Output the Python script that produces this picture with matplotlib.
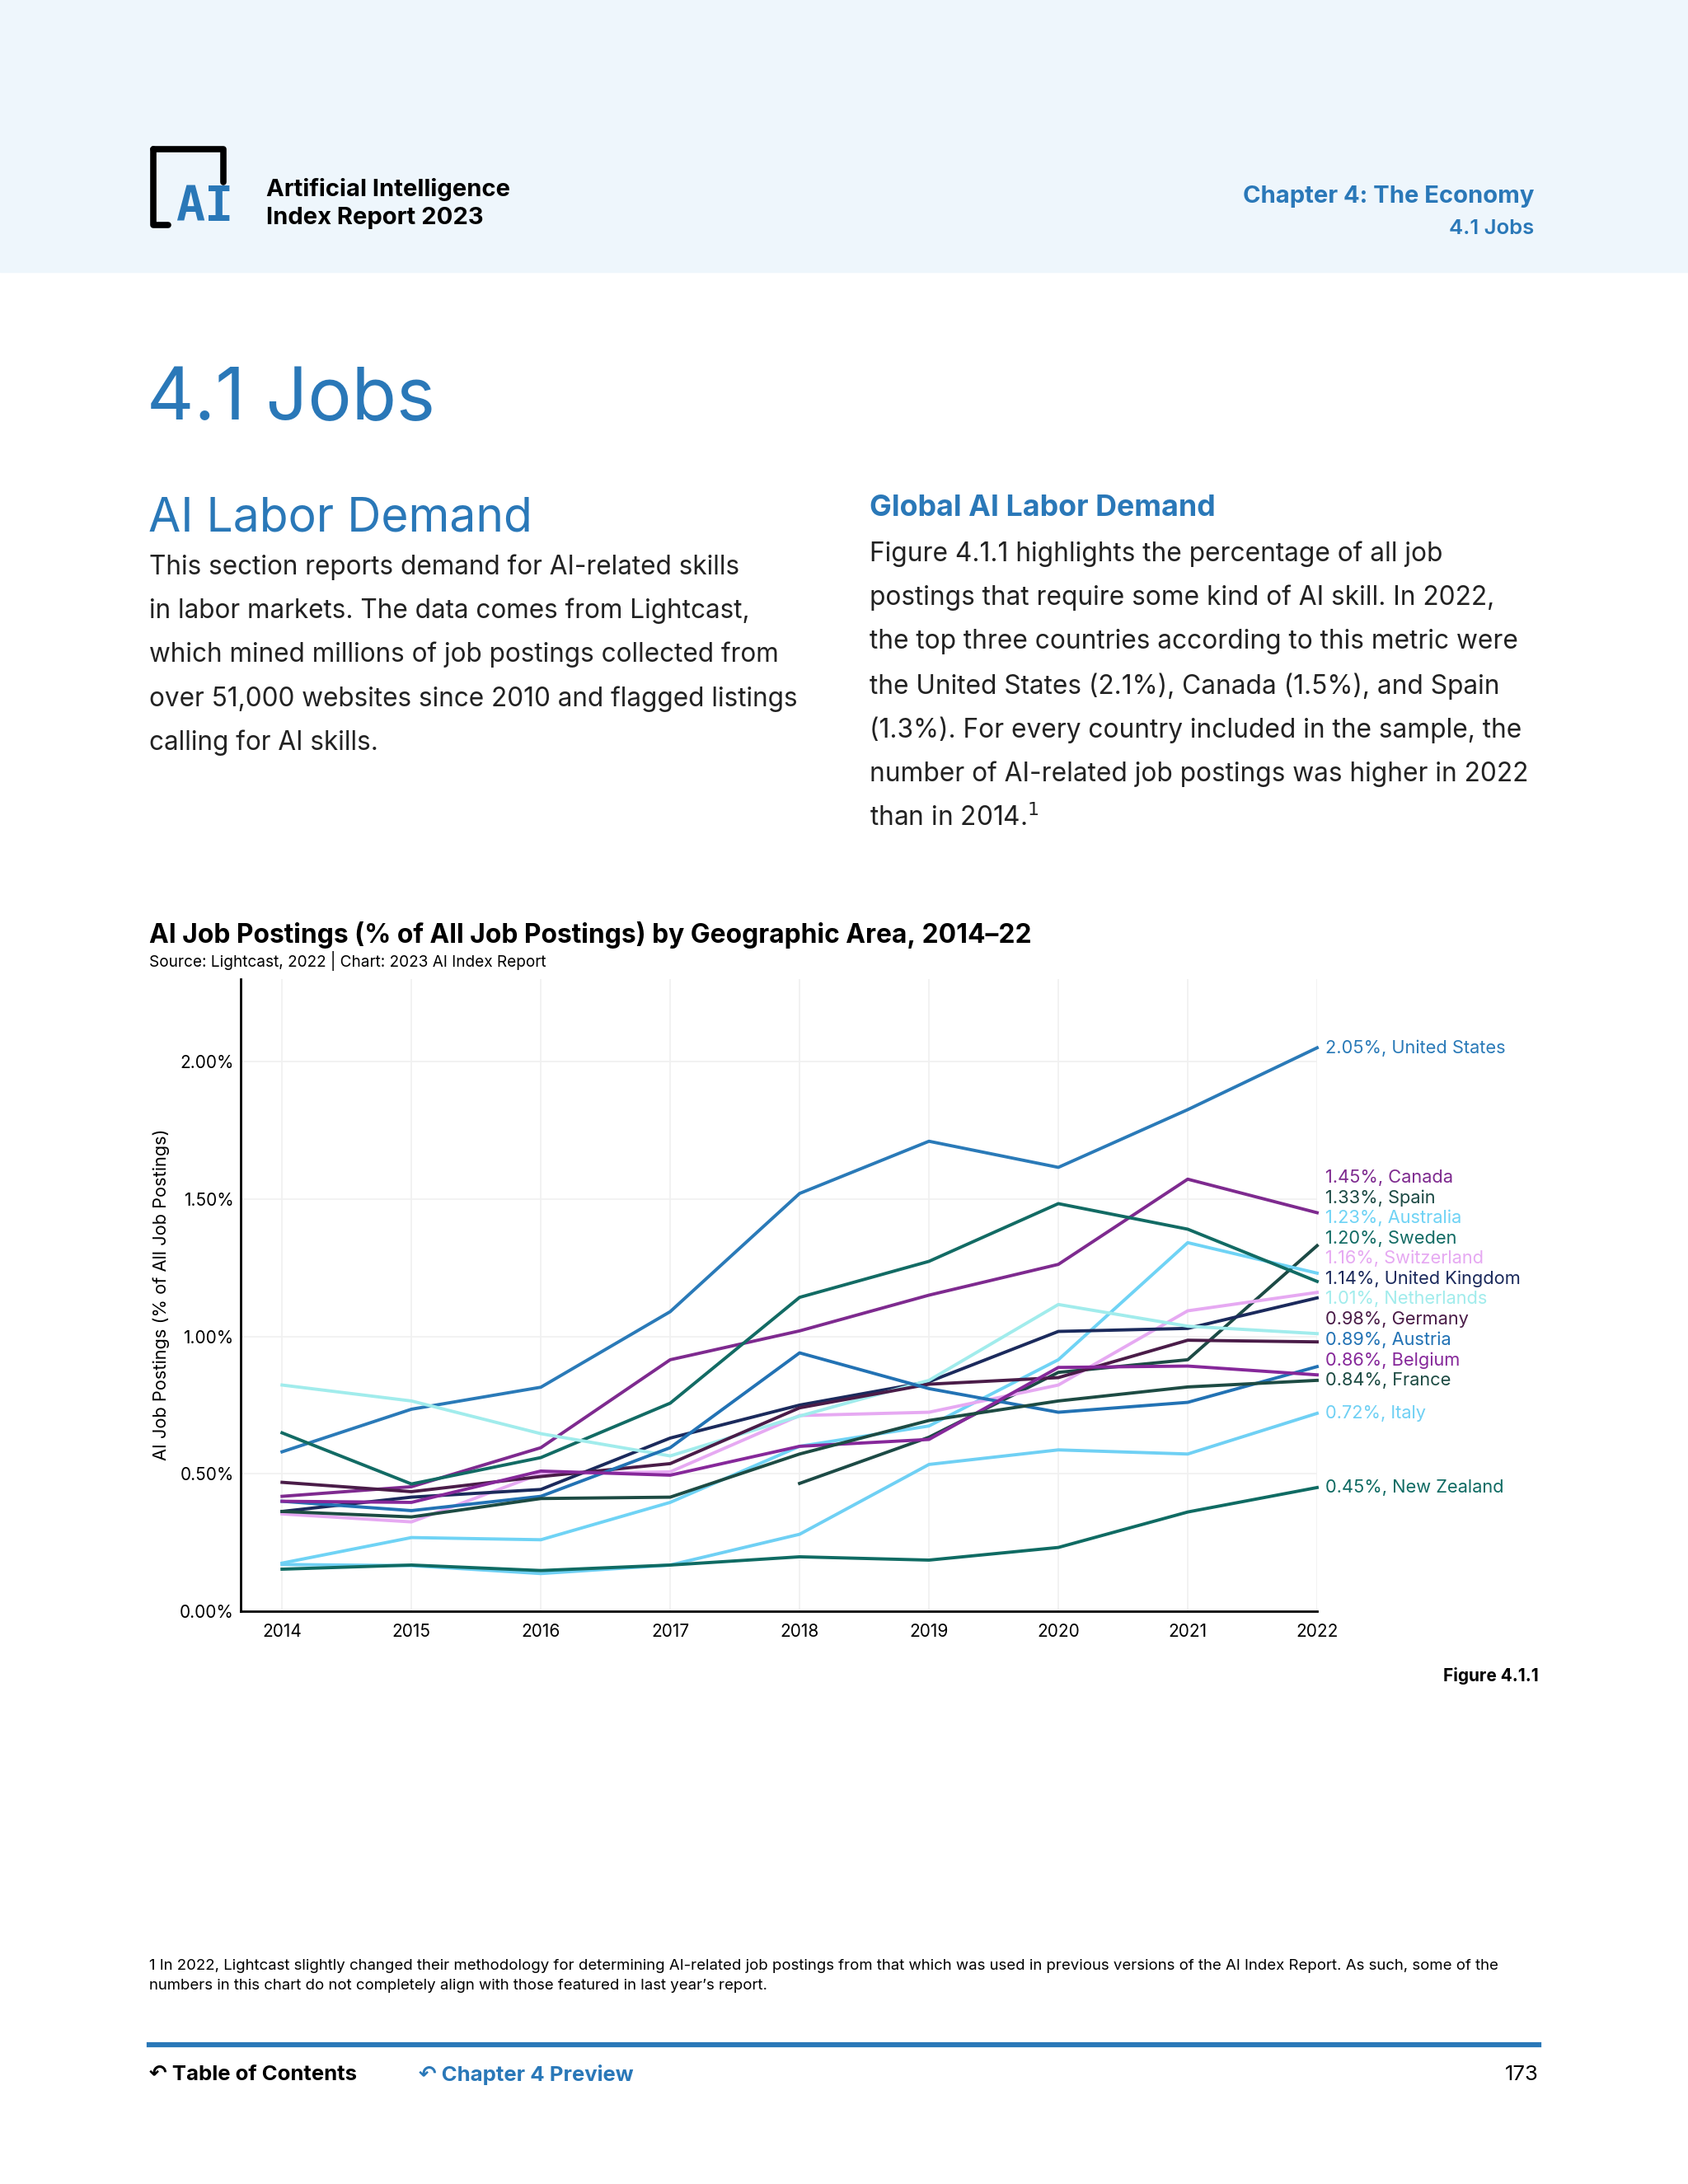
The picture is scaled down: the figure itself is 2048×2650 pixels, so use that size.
import numpy as np
import matplotlib
matplotlib.use("Agg")
import matplotlib.pyplot as plt
from matplotlib.lines import Line2D
from matplotlib.patches import Rectangle

plt.rcParams['font.family'] = ['Inter', 'DejaVu Sans']

# dati (% di tutti gli annunci)
anni = [2014, 2015, 2016, 2017, 2018, 2019, 2020, 2021, 2022]
paesi = ["United States", "Canada", "Spain", "Australia", "Sweden", "Switzerland",
         "United Kingdom", "Netherlands", "Germany", "Austria", "Belgium", "France",
         "Italy", "New Zealand"]
nan = np.nan
united_states = [0.58, 0.735, 0.815, 1.09, 1.52, 1.71, 1.615, 1.825, 2.05]
canada = [0.418, 0.453, 0.595, 0.915, 1.02, 1.15, 1.262, 1.572, 1.45]
spain = [nan, nan, nan, nan, 0.465, 0.633, 0.869, 0.915, 1.33]
australia = [0.175, 0.268, 0.26, 0.396, 0.60, 0.674, 0.915, 1.341, 1.23]
sweden = [0.649, 0.463, 0.559, 0.757, 1.142, 1.273, 1.483, 1.39, 1.20]
switzerland = [0.354, 0.325, 0.50, 0.507, 0.712, 0.724, 0.823, 1.093, 1.16]
united_kingdom = [0.363, 0.415, 0.443, 0.63, 0.75, 0.835, 1.018, 1.029, 1.14]
netherlands = [0.823, 0.765, 0.646, 0.565, 0.71, 0.84, 1.116, 1.037, 1.01]
germany = [0.469, 0.435, 0.49, 0.537, 0.74, 0.826, 0.85, 0.986, 0.98]
austria = [0.40, 0.366, 0.418, 0.595, 0.94, 0.81, 0.724, 0.76, 0.89]
belgium = [0.40, 0.396, 0.51, 0.495, 0.60, 0.625, 0.887, 0.892, 0.86]
france = [0.363, 0.343, 0.41, 0.415, 0.572, 0.694, 0.765, 0.816, 0.84]
italy = [0.17, 0.166, 0.137, 0.168, 0.28, 0.534, 0.587, 0.572, 0.72]
new_zealand = [0.153, 0.168, 0.148, 0.168, 0.198, 0.186, 0.232, 0.361, 0.45]
serie = [united_states, canada, spain, australia, sweden, switzerland, united_kingdom,
         netherlands, germany, austria, belgium, france, italy, new_zealand]
colori = ["#2a7ab8", "#7e2a8f", "#1c4a45", "#6fd3f5", "#126b64", "#e6a9f2", "#1b2a5c",
          "#a1ecec", "#4a1c48", "#2272b4", "#86289a", "#1d4b43", "#6fd0f4", "#0f6b63"]

W, H = 2048, 2650
fig = plt.figure(figsize=(W / 100, H / 100), dpi=100)
blu = "#2a78b8"


def fx(x):
    return x / W


def fy(y):
    return 1 - y / H


# fascia in alto
fig.patches.append(Rectangle((0, fy(330)), 1, 330 / H, transform=fig.transFigure,
                             color="#eef6fc", zorder=0))
# logo
lw_logo = 5.5
for xs, ys in [([186, 186, 204], [181, 273, 273]), ([186, 271, 271], [181, 181, 221])]:
    fig.add_artist(Line2D([fx(v) for v in xs], [fy(v) for v in ys], color="black",
                          lw=lw_logo, solid_capstyle="round", solid_joinstyle="round"))
fig.text(fx(248), fy(252), "AI", color=blu, fontsize=42, fontweight="bold",
         family="DejaVu Sans Mono", ha="center", va="center")
fig.text(fx(323), fy(230), "Artificial Intelligence", fontsize=21, fontweight="bold",
         va="center")
fig.text(fx(323), fy(265), "Index Report 2023", fontsize=21, fontweight="bold",
         va="center")
fig.text(fx(1861), fy(238), "Chapter 4: The Economy", fontsize=21, fontweight="bold",
         color=blu, ha="right", va="center")
fig.text(fx(1861), fy(277), "4.1 Jobs", fontsize=18.5, fontweight="semibold",
         color=blu, ha="right", va="center")

# titoli e testo
fig.text(fx(178), fy(486), "4.1 Jobs", fontsize=64, color=blu, va="center")
fig.text(fx(180), fy(630), "AI Labor Demand", fontsize=41, color=blu, va="center")
sinistra = ["This section reports demand for AI-related skills",
            "in labor markets. The data comes from Lightcast,",
            "which mined millions of job postings collected from",
            "over 51,000 websites since 2010 and flagged listings",
            "calling for AI skills."]
for i, riga in enumerate(sinistra):
    fig.text(fx(181), fy(688 + i * 53.3), riga, fontsize=22.7, color="#222222", va="center")
fig.text(fx(1055), fy(616), "Global AI Labor Demand", fontsize=25.8, fontweight="bold",
         color=blu, va="center")
destra = ["Figure 4.1.1 highlights the percentage of all job",
          "postings that require some kind of AI skill. In 2022,",
          "the top three countries according to this metric were",
          "the United States (2.1%), Canada (1.5%), and Spain",
          "(1.3%). For every country included in the sample, the",
          "number of AI-related job postings was higher in 2022",
          "than in 2014.$^{1}$"]
for i, riga in enumerate(destra):
    fig.text(fx(1055), fy(672 + i * 53.5), riga, fontsize=22.8, color="#222222", va="center")

fig.text(fx(181), fy(1134), "AI Job Postings (% of All Job Postings) by Geographic Area, 2014–22",
         fontsize=22.9, fontweight="bold", va="center")
fig.text(fx(181), fy(1166), "Source: Lightcast, 2022 | Chart: 2023 AI Index Report",
         fontsize=13.7, va="center")

# grafico
ax = fig.add_axes([fx(292), fy(1955), fx(1598) - fx(292), (1955 - 1188) / H])
for valori, col in zip(serie, colori):
    ax.plot(anni, valori, color=col, lw=2.8, clip_on=False, zorder=3)
ax.set_xlim(2013.68, 2022)
ax.set_ylim(0, 2.30)
ax.set_xticks(anni)
ax.set_yticks([0, 0.5, 1.0, 1.5, 2.0])
ax.set_yticklabels(["0.00%", "0.50%", "1.00%", "1.50%", "2.00%"])
ax.tick_params(length=0, labelsize=15, pad=6)
ax.tick_params(axis="x", pad=11)
ax.grid(True, color="#f0f0f0", lw=1.2, zorder=0)
ax.set_axisbelow(True)
for s in ["top", "right"]:
    ax.spines[s].set_visible(False)
for s in ["left", "bottom"]:
    ax.spines[s].set_linewidth(2)
fig.text(fx(196), fy(1571), "AI Job Postings (% of All Job Postings)", rotation=90,
         fontsize=15.7, ha="center", va="center")

# etichette a destra, spinte verso l'alto per non sovrapporsi
ultimi = [v[-1] for v in serie]
ordine = np.argsort(ultimi)
pos = {}
prec = -1
for i in ordine:
    p = max(ultimi[i], prec + 0.0738)
    pos[i] = p
    prec = p
for i in range(len(paesi)):
    ax.text(2022.065, pos[i], f"{ultimi[i]:.2f}%, {paesi[i]}", color=colori[i],
            fontsize=15.7, va="center", ha="left", clip_on=False)

fig.text(fx(1867), fy(2033), "Figure 4.1.1", fontsize=15, fontweight="bold",
         ha="right", va="center")

# nota e piè di pagina
fig.text(fx(181), fy(2386), "1 In 2022, Lightcast slightly changed their methodology for determining "
         "AI-related job postings from that which was used in previous versions of the AI Index Report. "
         "As such, some of the", fontsize=13.4, va="center")
fig.text(fx(181), fy(2410), "numbers in this chart do not completely align with those featured "
         "in last year’s report.", fontsize=13.4, va="center")
fig.add_artist(Line2D([fx(181), fx(1867)], [fy(2481), fy(2481)], color=blu, lw=4.5))
fig.text(fx(181), fy(2518), "↶ Table of Contents", fontsize=18.5, fontweight="bold",
         va="center")
fig.text(fx(508), fy(2518), "↶ Chapter 4 Preview", fontsize=18.5, fontweight="bold",
         color=blu, va="center")
fig.text(fx(1867), fy(2518), "173", fontsize=18.5, ha="right", va="center")

fig.savefig("out.png", dpi=100)
